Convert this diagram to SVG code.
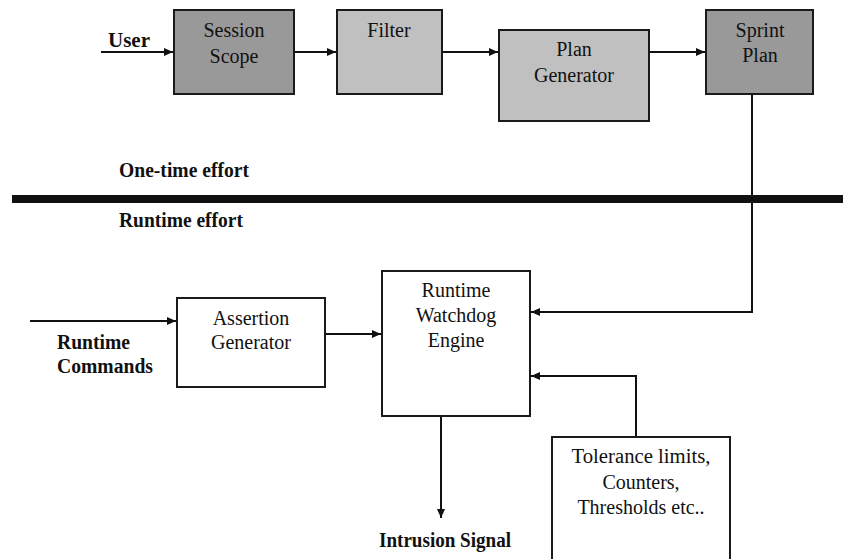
<svg xmlns="http://www.w3.org/2000/svg" width="843" height="559" viewBox="0 0 843 559" font-family="Liberation Serif, Times New Roman, serif">
<style>
.box{stroke:#1a1a1a;stroke-width:2}
.dark{fill:#999999}
.light{fill:#c0c0c0}
.white{fill:#ffffff}
.c{fill:none;stroke:#111;stroke-width:2}
</style>
<defs>
<marker id="ah" markerWidth="10" markerHeight="8" refX="9" refY="4" orient="auto" markerUnits="userSpaceOnUse">
<path d="M0,0 L9,4 L0,8 Z" fill="#111"/>
</marker>
</defs>
<rect width="843" height="559" fill="#ffffff"/>

<g font-family="Liberation Serif" font-size="20" fill="#111" text-anchor="middle">
<g id="session-scope">
<rect class="box dark" x="174" y="10" width="120" height="84"/>
<text x="234" y="37" fill="#111">Session</text>
<text x="234" y="63" fill="#111">Scope</text>
</g>
<g id="filter">
<rect class="box light" x="337" y="10" width="105" height="84"/>
<text x="389" y="37" fill="#111">Filter</text>
</g>
<g id="plan-generator">
<rect class="box light" x="499" y="30" width="150" height="91"/>
<text x="574" y="56" fill="#111">Plan</text>
<text x="574" y="82" fill="#111">Generator</text>
</g>
<g id="sprint-plan">
<rect class="box dark" x="706" y="10" width="107" height="84"/>
<text x="760" y="37" fill="#111">Sprint</text>
<text x="760" y="62" fill="#111">Plan</text>
</g>
<g id="assertion-generator">
<rect class="box white" x="177" y="298" width="148" height="89"/>
<text x="251" y="325" fill="#111">Assertion</text>
<text x="251" y="349" fill="#111">Generator</text>
</g>
<g id="watchdog">
<rect class="box white" x="382" y="271" width="148" height="145"/>
<text x="456" y="297" fill="#111">Runtime</text>
<text x="456" y="322" fill="#111">Watchdog</text>
<text x="456" y="347" fill="#111">Engine</text>
</g>
<g id="tolerance">
<rect class="box white" x="552" y="437" width="178" height="140"/>
<text x="641" y="463" fill="#111" textLength="139" lengthAdjust="spacingAndGlyphs">Tolerance limits,</text>
<text x="641" y="489" fill="#111">Counters,</text>
<text x="641" y="514" fill="#111">Thresholds etc..</text>
</g>
</g>

<g id="labels" font-family="Liberation Serif" font-size="20" font-weight="bold" fill="#111">
<text x="108" y="47" textLength="42" lengthAdjust="spacingAndGlyphs">User</text>
<text x="119" y="177" textLength="130" lengthAdjust="spacingAndGlyphs">One-time effort</text>
<text x="119" y="227" textLength="124" lengthAdjust="spacingAndGlyphs">Runtime effort</text>
<text x="57" y="349" textLength="73" lengthAdjust="spacingAndGlyphs">Runtime</text>
<text x="57" y="373" textLength="96" lengthAdjust="spacingAndGlyphs">Commands</text>
<text x="379" y="547" textLength="132" lengthAdjust="spacingAndGlyphs">Intrusion Signal</text>
</g>

<rect id="divider" x="12" y="195" width="831" height="8" fill="#111"/>

<g id="connectors">
<line class="c" x1="101" y1="52" x2="173" y2="52" marker-end="url(#ah)"/>
<line class="c" x1="295" y1="52" x2="336" y2="52" marker-end="url(#ah)"/>
<line class="c" x1="443" y1="52" x2="498" y2="52" marker-end="url(#ah)"/>
<line class="c" x1="650" y1="52" x2="705" y2="52" marker-end="url(#ah)"/>
<polyline class="c" points="752,95 752,312 531,312" marker-end="url(#ah)"/>
<line class="c" x1="30" y1="321" x2="176" y2="321" marker-end="url(#ah)"/>
<line class="c" x1="326" y1="334" x2="381" y2="334" marker-end="url(#ah)"/>
<polyline class="c" points="636,436 636,376 531,376" marker-end="url(#ah)"/>
<line class="c" x1="441" y1="417" x2="441" y2="518" marker-end="url(#ah)"/>
</g>
</svg>
